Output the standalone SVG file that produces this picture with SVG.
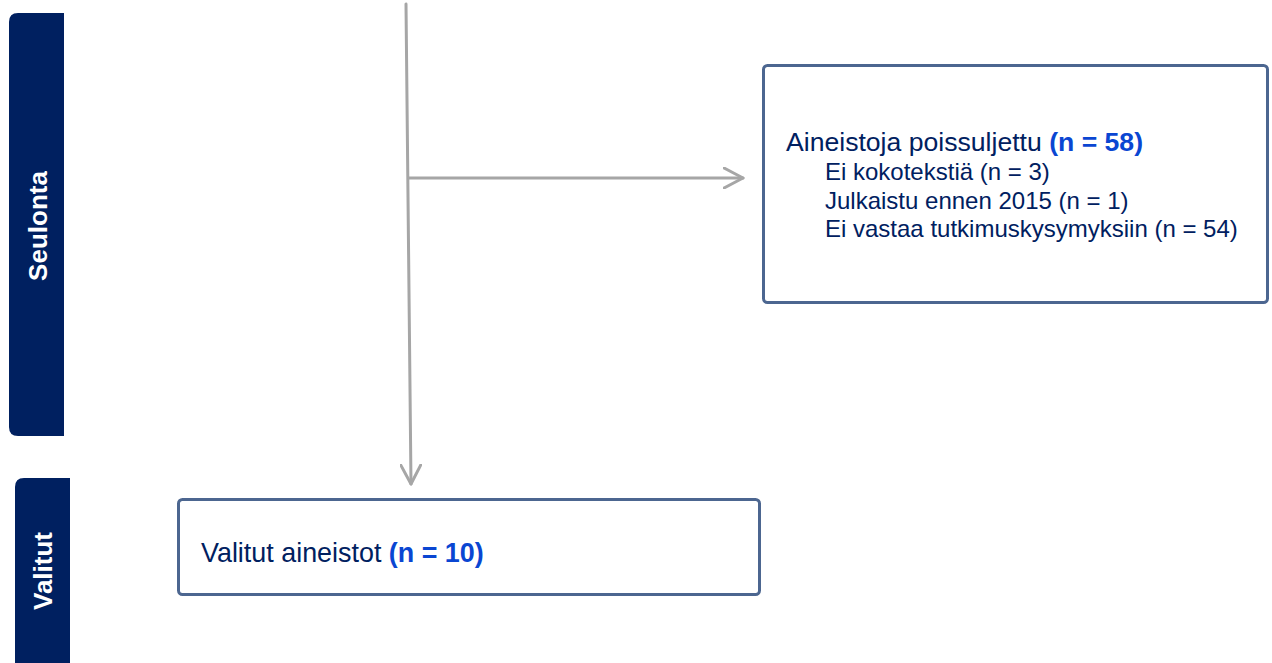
<svg xmlns="http://www.w3.org/2000/svg" width="1272" height="663" viewBox="0 0 1272 663">
  <style>
    .bar { fill: #002060; }
    .barlabel { fill: #ffffff; font-family: "Liberation Sans", Arial, sans-serif; font-weight: bold; font-size: 26px; text-anchor: middle; }
    .box { fill: #ffffff; stroke: #4C6690; stroke-width: 3; }
    .t { fill: #002060; font-family: "Liberation Sans", Arial, sans-serif; }
    .n { fill: #0A46D2; font-weight: bold; }
    .conn { fill: none; stroke: #A6A6A6; stroke-width: 3; stroke-linecap: round; stroke-linejoin: round; }
  </style>
  <defs>
    <marker id="arrow" viewBox="0 0 22 22" refX="20" refY="11" markerWidth="22" markerHeight="22" markerUnits="userSpaceOnUse" orient="auto">
      <path d="M1,1 L20,11 L1,21" fill="none" stroke="#A6A6A6" stroke-width="3" stroke-linecap="round" stroke-linejoin="round"/>
    </marker>
  </defs>
  <rect width="1272" height="663" fill="#ffffff"/>

  <g id="stage-seulonta">
    <path class="bar" d="M64,13 L18,13 Q9,13 9,22 L9,427 Q9,436 18,436 L64,436 Z"/>
    <text class="barlabel" transform="translate(47,226) rotate(-90)" x="0" y="0">Seulonta</text>
  </g>

  <g id="stage-valitut">
    <path class="bar" d="M70,478 L24,478 Q15,478 15,487 L15,663 L70,663 Z"/>
    <text class="barlabel" transform="translate(52,571) rotate(-90)" x="0" y="0">Valitut</text>
  </g>

  <g id="connectors">
    <path class="conn" d="M406,4 L411,484" marker-end="url(#arrow)"/>
    <path class="conn" d="M409,178 L743,178" marker-end="url(#arrow)"/>
  </g>

  <g id="node-excluded">
    <rect class="box" x="763.5" y="65.5" width="504" height="237" rx="4"/>
    <text class="t" x="786" y="151" font-size="26.6">Aineistoja poissuljettu <tspan class="n">(n = 58)</tspan></text>
    <text class="t" x="825" y="180" font-size="24">Ei kokotekstiä (n = 3)</text>
    <text class="t" x="825" y="208.5" font-size="24">Julkaistu ennen 2015 (n = 1)</text>
    <text class="t" x="825" y="237" font-size="24">Ei vastaa tutkimuskysymyksiin (n = 54)</text>
  </g>

  <g id="node-selected">
    <rect class="box" x="178.5" y="499.5" width="581" height="95" rx="4"/>
    <text class="t" x="201" y="562" font-size="26.9">Valitut aineistot <tspan class="n">(n = 10)</tspan></text>
  </g>
</svg>
